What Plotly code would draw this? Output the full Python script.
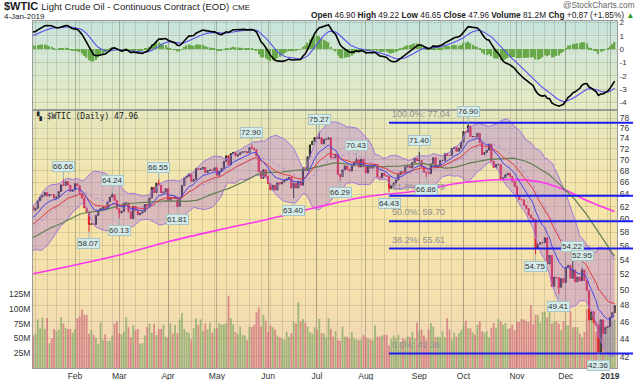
import numpy as np
import pandas as pd
import plotly.graph_objects as go

# ---------------- data ----------------
# closes Oct-2017 .. Dec-2017 (history used only to warm up indicators)
closes_prior = [
    50.58, 50.42, 49.98, 50.79, 49.29, 49.58, 50.92, 51.30, 50.60, 51.45, 51.87,
    51.88, 52.04, 51.29, 51.84, 52.47, 52.18, 52.11, 52.64, 53.90, 54.15, 54.38,
    54.30, 54.54, 55.64, 57.35, 57.20, 56.81, 57.17, 56.74, 56.76, 55.70, 55.33,
    55.14, 56.55, 56.09, 56.83, 57.02, 58.95, 58.11, 57.99, 57.30, 57.40,
    58.36, 57.47, 57.62, 56.96, 56.69, 57.36, 57.99, 57.14, 56.60, 57.04, 57.30,
    57.16, 57.46, 58.09, 58.36, 58.47, 59.97, 59.64, 59.84, 60.42,
]

# daily closes 2-Jan-2018 .. 4-Jan-2019
closes = [
    # Jan
    60.37, 61.63, 62.01, 61.44, 61.73, 62.96, 63.57, 63.80, 64.30, 63.73, 63.97,
    63.95, 63.37, 63.57, 64.47, 65.61, 65.51, 66.14, 65.56, 64.50, 64.73,
    # Feb
    65.80, 65.45, 64.15, 63.39, 61.79, 61.15, 59.20, 59.29, 59.19, 60.60, 61.34,
    61.68, 61.90, 61.68, 62.77, 63.55, 63.91, 63.01, 61.64,
    # Mar
    60.99, 61.25, 62.57, 62.60, 61.15, 60.12, 62.04, 61.36, 60.71, 60.96, 61.19,
    62.34, 62.06, 63.40, 65.17, 64.30, 65.88, 65.55, 64.25, 64.38, 64.94,
    # Apr
    63.01, 63.51, 63.37, 63.54, 62.06, 63.42, 65.51, 66.82, 67.07, 67.39, 66.22,
    66.52, 68.47, 68.29, 68.38, 68.64, 67.70, 68.05, 68.19, 68.10, 68.57,
    # May
    67.25, 67.93, 68.43, 69.72, 70.73, 69.06, 71.14, 71.36, 70.70, 70.96, 71.31,
    71.49, 71.49, 71.28, 72.24, 72.13, 71.84, 70.71, 67.88, 66.73, 68.21, 67.04,
    # Jun
    65.81, 64.75, 65.52, 64.73, 65.95, 65.74, 66.10, 66.36, 66.64, 66.89, 65.06,
    65.85, 65.07, 66.22, 65.54, 68.58, 68.08, 70.53, 72.76, 73.45, 74.15,
    # Jul
    73.94, 74.14, 72.94, 73.80, 73.85, 74.11, 70.38, 70.33, 71.01, 67.40, 67.00,
    68.20, 68.90, 68.30, 68.00, 68.90, 69.60, 70.00, 68.70, 70.10, 68.80,
    # Aug
    67.66, 68.96, 68.49, 69.01, 69.17, 66.94, 66.81, 67.63, 67.20, 67.04, 65.01,
    65.46, 65.91, 66.43, 67.35, 67.86, 67.83, 68.72, 68.87, 68.53, 69.51, 70.25, 69.80,
    # Sep
    69.87, 68.72, 67.77, 67.75, 67.54, 69.25, 70.37, 68.59, 68.99, 69.85, 69.85,
    71.12, 70.80, 70.78, 72.08, 72.28, 71.57, 72.12, 73.25,
    # Oct
    75.30, 75.23, 76.41, 74.33, 74.34, 74.29, 74.96, 73.17, 70.97, 71.34, 71.78,
    72.92, 69.75, 68.65, 69.12, 69.17, 66.43, 66.82, 67.33, 67.59, 67.04, 66.18, 65.31,
    # Nov
    63.69, 63.14, 63.10, 62.21, 61.67, 60.67, 60.19, 59.93, 55.69, 56.25, 56.46,
    56.46, 57.20, 53.43, 54.63, 50.42, 51.63, 51.56, 50.29, 51.45, 50.93,
    # Dec
    52.95, 53.25, 51.49, 52.61, 51.00, 51.65, 51.15, 52.58, 51.20, 49.88, 46.24,
    47.20, 45.88, 45.59, 42.53, 46.22, 44.61, 45.33, 45.41,
    # Jan 2019
    46.54, 47.09, 47.96,
]

# daily volume, millions of contracts
volumes_m = [
    60, 72, 70,
    55, 58, 82, 67, 85, 66, 84, 42, 50, 66,
    62, 65, 86, 75, 68, 66, 66, 60, 66, 84,
    87, 99, 90, 90, 58, 64, 56, 51, 41, 77,
    47, 57, 45, 46, 55, 75, 79, 59, 57, 62,
    86, 69, 52, 72, 64, 66, 41, 42, 55, 69,
    75, 60, 75, 56, 66, 66, 73, 53, 51, 75,
    58, 73, 59, 82, 93, 66, 61, 59, 48, 67,
    84, 73, 82, 62, 75, 65, 77, 60, 67, 67,
    76, 73, 74, 76, 122, 84, 74, 61, 57, 70,
    56, 55, 47, 70, 69, 73, 94, 102, 70, 90,
    80, 61, 72, 69, 65, 55, 52, 50, 48, 61,
    53, 59, 78, 75, 111, 79, 83, 77, 70, 61,
    58, 69, 65,
    83, 59, 58, 52, 84, 66, 53, 62, 47, 46,
    70, 53, 53, 50, 61, 50, 48, 47, 48, 56,
    52, 50, 48, 47, 72, 53, 53, 55, 56, 56,
    38, 49, 55, 50, 56, 44, 50, 48, 53, 52,
    61, 50, 77, 62, 65, 55, 48, 65, 76, 70,
    52, 53, 52, 62, 52, 84, 65, 48, 60, 53,
    59, 64, 72, 80, 67, 67, 60, 56, 73, 79,
    62, 60, 62, 52, 68, 76, 68, 83, 79, 73,
    76, 66, 67, 73, 64, 78, 78, 83, 82, 79,
    78, 106, 74, 90, 90, 77, 95, 95, 86, 106,
    75, 78, 79, 75, 64, 79, 73, 72, 96, 69,
    69, 69, 58, 52, 61, 99, 83, 86, 77, 62,
    76, 70, 78, 60, 67, 69, 79,
    81.2,
]

label_dates = ["2018-01-25", "2018-02-09", "2018-02-26", "2018-03-01", "2018-03-26",
               "2018-04-06", "2018-05-22", "2018-06-18", "2018-07-03", "2018-07-17",
               "2018-07-26", "2018-08-15", "2018-09-04", "2018-09-07", "2018-10-03",
               "2018-11-13", "2018-11-28", "2018-12-07", "2018-12-13", "2018-12-24"]
label_values = [66.66, 58.07, 64.24, 60.13, 66.55, 61.81, 72.90, 63.40, 75.27, 66.29,
                70.43, 64.43, 71.40, 66.86, 76.90, 54.75, 49.41, 54.22, 52.95, 42.36]
label_kind = ["high", "low", "high", "low", "high", "low", "high", "low", "high", "low",
              "high", "low", "high", "low", "high", "low", "low", "high", "high", "low"]

ma200_dates = ["2018-01-05", "2018-02-01", "2018-03-01", "2018-04-02", "2018-05-01",
               "2018-06-01", "2018-07-02", "2018-08-01", "2018-09-04", "2018-10-01",
               "2018-11-01", "2018-11-15", "2018-12-03", "2018-12-17", "2019-01-04"]
ma200_values = [52.1, 53.3, 54.7, 56.6, 58.3, 60.0, 61.9, 63.6, 64.6, 66.0,
                66.5, 66.1, 64.7, 63.0, 61.2]

fib_low, fib_high = 42.36, 77.04
fib_pcts = [0.0, 38.2, 50.0, 61.8, 100.0]
fib_start_date = "2018-08-15"

price_ticks = list(range(42, 79, 2))
macd_ticks = [-4, -3, -2, -1, 0, 1, 2]
volume_ticks = [25, 50, 75, 100, 125]
month_abbr = ["Jan", "Feb", "Mar", "Apr", "May", "Jun", "Jul", "Aug", "Sep", "Oct", "Nov", "Dec"]

header_title = "$WTIC"
header_name = "Light Crude Oil - Continuous Contract (EOD)"
header_exch = "CME"
header_date = "4-Jan-2019"
quote = [("Open", "46.90"), ("High", "49.22"), ("Low", "46.65"), ("Close", "47.96"),
         ("Volume", "81.2M"), ("Chg", "+0.87 (+1.85%)")]

# ---------------- dates ----------------
holidays = pd.to_datetime(["2017-11-23", "2017-12-25", "2018-01-01", "2018-01-15",
                           "2018-02-19", "2018-03-30", "2018-05-28", "2018-07-04",
                           "2018-09-03", "2018-11-22", "2018-12-05", "2018-12-25",
                           "2019-01-01"])
dates = pd.bdate_range("2018-01-02", "2019-01-04").difference(holidays)
N = len(closes)
dates = dates[:N]
pos = {d.strftime("%Y-%m-%d"): i for i, d in enumerate(dates)}
xi = np.arange(N)

# ---------------- indicators ----------------
allc = pd.Series(closes_prior + closes, dtype=float)
n0 = len(closes_prior)
ema10 = allc.ewm(span=10, adjust=False).mean().values[n0:]
ema20 = allc.ewm(span=20, adjust=False).mean().values[n0:]
sma20 = allc.rolling(20).mean().values[n0:]
sd20 = allc.rolling(20).std(ddof=0).values[n0:]
sma50 = allc.rolling(50).mean().values[n0:]
macd_s = allc.ewm(span=12, adjust=False).mean() - allc.ewm(span=26, adjust=False).mean()
sig_s = macd_s.ewm(span=9, adjust=False).mean()
macd = macd_s.values[n0:]
sig = sig_s.values[n0:]
hist = macd - sig
bb_hi = sma20 + 2 * sd20
bb_lo = sma20 - 2 * sd20

opens = np.array([closes_prior[-1]] + closes[:-1], dtype=float)
cl = np.array(closes, dtype=float)
highs = np.maximum(opens, cl)
lows = np.minimum(opens, cl)
for d, v, k in zip(label_dates, label_values, label_kind):
    i = pos[d]
    if k == "high":
        highs[i] = max(highs[i], v)
    else:
        lows[i] = min(lows[i], v)

up = cl >= opens
vol_colors = ["rgba(128,168,98,0.72)" if u else "rgba(207,104,120,0.70)" for u in up]

# ---------------- geometry ----------------
W, H = 640, 380
X0, X1 = 33, 617
MAIN_T, MAIN_B = 110, 368
MACD_T, MACD_B = 21, 110
XR = [2.94, 254.0]
PR = [np.log10(40.8), np.log10(79.65)]
VR = [0, 436]
MR = [-4.55, 2.1]


def px(x):
    return x / W


def py(y):
    return 1 - y / H


def idx_to_paper(i):
    return px(X0) + (i - XR[0]) / (XR[1] - XR[0]) * (X1 - X0) / W


def price_to_paper(p):
    return py(MAIN_B) + (np.log10(p) - PR[0]) / (PR[1] - PR[0]) * (MAIN_B - MAIN_T) / H


month_starts = []
weekly = []
for i, d in enumerate(dates):
    if i == 0 or d.month != dates[i - 1].month:
        month_starts.append(i)
    if i == 0 or d.isocalendar()[1] != dates[i - 1].isocalendar()[1]:
        weekly.append(i)
month_text = []
for i in month_starts:
    d = dates[i]
    month_text.append("<b>%d</b>" % d.year if d.month == 1 else month_abbr[d.month - 1])

fig = go.Figure()

# volume (base axis of main panel)
fig.add_trace(go.Bar(x=xi, y=volumes_m, marker=dict(color=vol_colors, line=dict(width=0)),
                     width=0.78, xaxis="x", yaxis="y", hoverinfo="skip", showlegend=False))

# Bollinger bands
fig.add_trace(go.Scatter(x=xi, y=bb_lo, mode="lines", line=dict(color="#a278dc", width=1),
                         xaxis="x", yaxis="y3", hoverinfo="skip", showlegend=False))
fig.add_trace(go.Scatter(x=xi, y=bb_hi, mode="lines", line=dict(color="#a278dc", width=1),
                         fill="tonexty", fillcolor="rgba(170,110,215,0.36)",
                         xaxis="x", yaxis="y3", hoverinfo="skip", showlegend=False))
fig.add_trace(go.Scatter(x=xi, y=sma20, mode="lines",
                         line=dict(color="#b48ad8", width=1, dash="dot"),
                         xaxis="x", yaxis="y3", hoverinfo="skip", showlegend=False))

# moving averages
ma200_x = [pos[d] for d in ma200_dates]
fig.add_trace(go.Scatter(x=ma200_x, y=ma200_values, mode="lines",
                         line=dict(color="#ff35f0", width=1.6, shape="spline"),
                         xaxis="x", yaxis="y3", hoverinfo="skip", showlegend=False))
fig.add_trace(go.Scatter(x=xi, y=sma50, mode="lines", line=dict(color="#5f7d52", width=1.2),
                         xaxis="x", yaxis="y3", hoverinfo="skip", showlegend=False))
fig.add_trace(go.Scatter(x=xi, y=ema20, mode="lines", line=dict(color="#e23a3a", width=1),
                         xaxis="x", yaxis="y3", hoverinfo="skip", showlegend=False))
fig.add_trace(go.Scatter(x=xi, y=ema10, mode="lines", line=dict(color="#4646e6", width=1),
                         xaxis="x", yaxis="y3", hoverinfo="skip", showlegend=False))

# candles
fig.add_trace(go.Candlestick(x=xi, open=opens, high=highs, low=lows, close=cl,
                             increasing=dict(line=dict(color="#1e1e1e", width=1),
                                             fillcolor="rgba(240,240,240,0.5)"),
                             decreasing=dict(line=dict(color="#e3202c", width=1),
                                             fillcolor="#e3202c"),
                             whiskerwidth=0, xaxis="x", yaxis="y3",
                             hoverinfo="skip", showlegend=False))

# MACD panel
fig.add_trace(go.Bar(x=xi, y=hist, marker=dict(color="#6aa84c", line=dict(width=0)), width=0.6,
                     xaxis="x2", yaxis="y2", hoverinfo="skip", showlegend=False))
fig.add_trace(go.Scatter(x=xi, y=sig, mode="lines", line=dict(color="#5a50f0", width=1.1),
                         xaxis="x2", yaxis="y2", hoverinfo="skip", showlegend=False))
fig.add_trace(go.Scatter(x=xi, y=macd, mode="lines", line=dict(color="#000000", width=1.6),
                         xaxis="x2", yaxis="y2", hoverinfo="skip", showlegend=False))

# ---------------- background gradients ----------------
shapes = []


def lerp_stops(stops, t):
    for (t0, c0), (t1, c1) in zip(stops[:-1], stops[1:]):
        if t <= t1:
            f = (t - t0) / (t1 - t0) if t1 > t0 else 0
            return tuple(int(round(a + (b - a) * f)) for a, b in zip(c0, c1))
    return stops[-1][1]


def gradient(top, bot, stops, n=40):
    for k in range(n):
        ya = top + (bot - top) * k / n
        yb = top + (bot - top) * (k + 1) / n
        c = lerp_stops(stops, (k + 0.5) / n)
        shapes.append(dict(type="rect", xref="paper", yref="paper", layer="below",
                           x0=px(X0), x1=px(X1), y0=py(yb), y1=py(ya) + 0.0005,
                           fillcolor="rgb(%d,%d,%d)" % c, line=dict(width=0)))


gradient(MACD_T, MACD_B, [(0, (196, 227, 219)), (0.5, (214, 231, 206)), (1, (229, 233, 192))])
gradient(MAIN_T, MAIN_B, [(0, (228, 230, 188)), (0.35, (246, 229, 168)),
                          (0.7, (245, 223, 172)), (1, (240, 213, 183))])

# fibonacci lines
annotations = []
fx0 = idx_to_paper(pos[fib_start_date])
for p in fib_pcts:
    lvl = fib_low + (fib_high - fib_low) * p / 100.0
    yp = price_to_paper(round(lvl, 2))
    shapes.append(dict(type="line", xref="paper", yref="paper", x0=fx0, x1=px(633),
                       y0=yp, y1=yp, line=dict(color="#1c1cf0", width=2), layer="above"))
    annotations.append(dict(xref="paper", yref="paper", x=fx0 + px(1), y=yp + 2 / H,
                            xanchor="left", yanchor="bottom", showarrow=False,
                            text="%.1f%%: %.2f" % (p, lvl),
                            font=dict(family="Liberation Sans", size=9, color="#8e8e8e")))

# price labels
for d, v, k in zip(label_dates, label_values, label_kind):
    annotations.append(dict(xref="x", yref="y3", x=pos[d], y=np.log10(v),
                            text="%.2f" % v, showarrow=True, arrowhead=0, arrowwidth=1,
                            arrowcolor="#9fb8b8", ax=0, ay=(-12 if k == "high" else 12),
                            bgcolor="#d5ebea", bordercolor="#a9c6c6", borderwidth=1,
                            borderpad=0,
                            font=dict(family="Liberation Sans", size=8, color="#333333")))

# header texts
annotations.append(dict(xref="paper", yref="paper", x=px(2), y=py(6.5), xanchor="left",
                        yanchor="middle", showarrow=False,
                        text="<b>%s</b> <span style='font-size:9.5px'>%s</span> "
                             "<span style='font-size:8px'>%s</span>" % (header_title, header_name, header_exch),
                        font=dict(family="Liberation Sans", size=11, color="#1a1a1a")))
annotations.append(dict(xref="paper", yref="paper", x=px(2), y=py(16.5), xanchor="left",
                        yanchor="middle", showarrow=False, text=header_date,
                        font=dict(family="Liberation Sans", size=8, color="#222222")))
qtext = " ".join("<b>%s</b> %s" % (a, b) for a, b in quote)
qtext += " <span style='color:#2a9a2a'>▲</span>"
annotations.append(dict(xref="paper", yref="paper", x=px(637), y=py(15), xanchor="right",
                        yanchor="middle", showarrow=False, text=qtext,
                        font=dict(family="Liberation Sans", size=8.3, color="#222222")))
annotations.append(dict(xref="paper", yref="paper", x=px(637), y=py(5), xanchor="right",
                        yanchor="middle", showarrow=False, text="@StockCharts.com",
                        font=dict(family="Liberation Sans", size=8.3, color="#666666")))
annotations.append(dict(xref="paper", yref="paper", x=px(34), y=py(116), xanchor="left",
                        yanchor="middle", showarrow=False,
                        text="<b>▚</b> $WTIC (Daily) %.2f" % closes[-1],
                        font=dict(family="DejaVu Sans Mono", size=8, color="#222222")))

grid_main = "rgba(120,120,95,0.22)"
grid_month = "rgba(95,95,80,0.38)"
axis_font = dict(family="Liberation Sans", size=8.5, color="#333333")
macd_font = dict(family="Liberation Sans", size=8, color="#333333")

xcommon = dict(range=XR, domain=[px(X0), px(X1)], tickmode="array", tickvals=month_starts,
               ticktext=month_text, showgrid=True, gridcolor=grid_month, gridwidth=1,
               minor=dict(tickmode="array", tickvals=weekly, showgrid=True,
                          gridcolor=grid_main, gridwidth=1),
               zeroline=False, ticks="", showline=True, linecolor="#9a9a9a", mirror=True,
               tickfont=axis_font, automargin=False, fixedrange=True)

fig.update_layout(
    width=W, height=H, margin=dict(l=0, r=0, t=0, b=0),
    paper_bgcolor="#ffffff", plot_bgcolor="rgba(0,0,0,0)",
    showlegend=False, hovermode=False, barmode="overlay",
    xaxis=dict(xcommon, anchor="y"),
    xaxis2=dict(xcommon, anchor="y2", matches="x", showticklabels=False),
    yaxis=dict(domain=[py(MAIN_B), py(MAIN_T)], range=VR, side="left", anchor="x",
               tickmode="array", tickvals=volume_ticks,
               ticktext=["%dM" % v for v in volume_ticks], showgrid=False,
               zeroline=False, ticks="", showline=True, linecolor="#9a9a9a",
               tickfont=axis_font, automargin=False, fixedrange=True),
    yaxis3=dict(overlaying="y", anchor="x", side="right", type="log", range=PR,
                tickmode="array", tickvals=price_ticks, ticktext=[str(t) for t in price_ticks],
                showgrid=True, gridcolor=grid_main, zeroline=False, ticks="",
                showline=True, linecolor="#9a9a9a", tickfont=axis_font,
                automargin=False, fixedrange=True),
    yaxis2=dict(domain=[py(MACD_B), py(MACD_T)], range=MR, side="right", anchor="x2",
                tickmode="array", tickvals=macd_ticks, ticktext=[str(t) for t in macd_ticks],
                showgrid=True, gridcolor=grid_main, zeroline=False, ticks="",
                showline=True, linecolor="#9a9a9a", mirror=True, tickfont=macd_font,
                automargin=False, fixedrange=True),
    shapes=shapes, annotations=annotations,
)
fig.update_xaxes(rangeslider_visible=False)

fig.write_html("out.html", config={"displayModeBar": False},
               post_script="document.body.style.margin='0px';document.body.style.overflow='hidden';")
